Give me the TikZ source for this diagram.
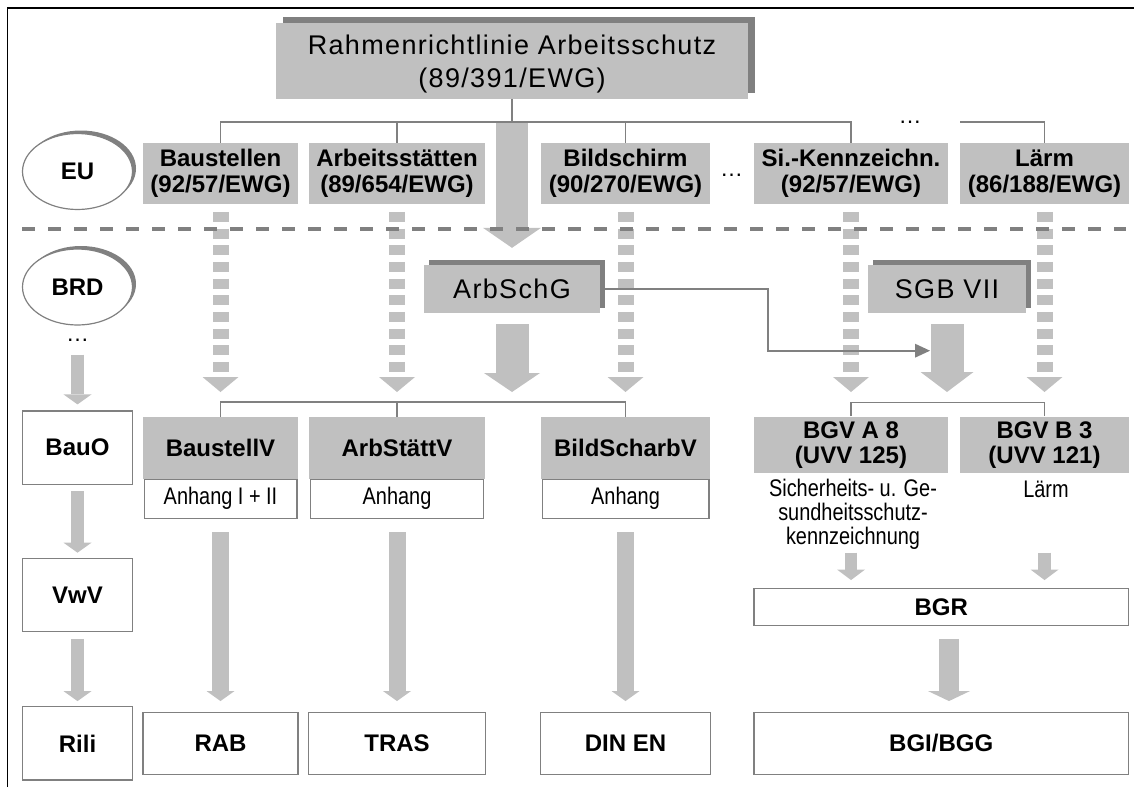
\documentclass[tikz,border=0pt]{standalone}
\usepackage{fontspec}
\setmainfont{Liberation Sans}
\newfontfamily\spacedfont[LetterSpace=5]{Liberation Sans}
\newfontfamily\narrowfont[FakeStretch=0.83]{Liberation Sans}
\usetikzlibrary{arrows.meta,shapes.geometric,shadows,calc}
\definecolor{boxgray}{HTML}{C0C0C0}
\definecolor{linegray}{HTML}{808080}
\newcommand\bfs{\fontsize{24}{26}\selectfont\bfseries}
\newcommand\bfsb{\fontsize{24}{25}\selectfont\bfseries}
\newcommand\spc{\spacedfont\fontsize{27}{33}\selectfont}
\newcommand\nar{\narrowfont\fontsize{24}{24}\selectfont}
\newcommand\reg{\fontsize{23}{26}\selectfont}
\tikzset{
  gbox/.style={fill=boxgray, draw=none, inner sep=0pt, align=center, font=\bfs},
  wbox/.style={fill=white, draw=linegray, line width=1.3pt, inner sep=0pt, align=center, font=\bfs},
  anhbox/.style={wbox, font=\nar},
  shbox/.style={fill=boxgray, inner sep=0pt, align=center, font=\spc},
  shadowed/.style 2 args={drop shadow={shadow xshift=#1, shadow yshift=#2, fill=linegray, opacity=1}},
  lvl/.style={ellipse, fill=white, draw=linegray, line width=1.2pt, minimum width=110pt, minimum height=76pt, inner sep=0pt, font=\bfs, shadowed={3.5pt}{3pt}},
  conn/.style={draw=linegray, line width=1.6pt},
  thinarrow/.style={conn, -{Triangle[width=14pt,length=15pt,line width=0pt]}},
  barrow/.style n args={3}{draw=boxgray, line width=#1, -{Triangle[width=#2,length=#3,line width=0pt]}},
  dasharrow/.style={draw=boxgray, line width=16pt, dash pattern=on 10pt off 6.67pt, -{Triangle[width=36pt,length=15pt,line width=0pt]}},
  sepline/.style={draw=linegray, line width=4pt, dash pattern=on 13.3pt off 12.7pt},
  dots/.style={font=\reg, anchor=base, inner sep=0pt}
}
\begin{document}
\begin{tikzpicture}[x=1pt,y=-1pt]
\useasboundingbox (0,0) rectangle (1134,787);
\draw[black, line width=1.1pt] (7.5,787) -- (7.5,8) -- (1134,8);

% ---- top framework directive
\node[shbox, shadowed={7pt}{6pt}, minimum width=472pt, minimum height=76pt] (rahmen) at (512,61) {};
\node[font=\spc, align=center, inner sep=0pt] (rahmentxt) at (512,64) {Rahmenrichtlinie Arbeitsschutz\\(89/391/EWG)};

% ---- EU directives
\node[gbox, minimum width=155pt, minimum height=61pt] (baust) at (220.5,173.5) {Baustellen\\(92/57/EWG)};
\node[gbox, minimum width=176pt, minimum height=61pt] (arbst) at (397,173.5) {Arbeitsstätten\\(89/654/EWG)};
\node[gbox, minimum width=169pt, minimum height=61pt] (bild) at (625.5,173.5) {Bildschirm\\(90/270/EWG)};
\node[gbox, minimum width=194pt, minimum height=61pt] (sikz) at (851,173.5) {Si.-Kennzeichn.\\(92/57/EWG)};
\node[gbox, minimum width=169pt, minimum height=61pt] (laerm) at (1044.5,173.5) {Lärm\\(86/188/EWG)};
\node[dots] (dotsA) at (910,123.2) {…};
\node[dots] (dotsB) at (731.5,176.2) {…};

% ---- level ellipses and left column
\node[lvl] (eu) at (77.5,171.5) {EU};
\node[lvl] (brd) at (77.5,287) {BRD};
\node[dots] (dotsC) at (77.5,341.2) {…};
\node[wbox, minimum width=110.6pt, minimum height=73.3pt] (bauo) at (77.5,447.7) {BauO};
\node[wbox, minimum width=110.6pt, minimum height=73.3pt] (vwv) at (77.5,595) {VwV};
\node[wbox, minimum width=110.6pt, minimum height=73.3pt] (rili) at (77.5,743.4) {Rili};

% ---- national laws
\node[shbox, shadowed={5pt}{5pt}, minimum width=176pt, minimum height=47.7pt] (arbschg) at (512,288.9) {ArbSchG};
\node[shbox, shadowed={5pt}{5pt}, minimum width=157.4pt, minimum height=47.7pt] (sgb) at (947,288.9) {SGB VII};

% ---- ordinances
\node[anhbox, minimum width=152.7pt, minimum height=39.3pt] (anh1) at (220.5,498.7) {Anhang I + II};
\node[anhbox, minimum width=172.7pt, minimum height=39.3pt] (anh2) at (397,498.7) {Anhang};
\node[anhbox, minimum width=166.7pt, minimum height=39.3pt] (anh3) at (625.5,498.7) {Anhang};
\node[gbox, minimum width=155pt, minimum height=62.3pt] (baustv) at (220.5,447.85) {BaustellV};
\node[gbox, minimum width=176pt, minimum height=62.3pt] (arbstv) at (397,447.85) {ArbStättV};
\node[gbox, minimum width=169pt, minimum height=62.3pt] (bildv) at (625.5,447.85) {BildScharbV};
\node[gbox, font=\bfsb, minimum width=194pt, minimum height=56.7pt] (bgva) at (851,445) {BGV A 8\\(UVV 125)};
\node[gbox, font=\bfsb, minimum width=169pt, minimum height=56.7pt] (bgvb) at (1044.5,445) {BGV B 3\\(UVV 121)};
\node[align=center, font=\nar, inner sep=0pt] (bgvatxt) at (853,514) {Sicherheits- u. Ge-\\sundheitsschutz-\\kennzeichnung};
\node[font=\nar, inner sep=0pt] (bgvbtxt) at (1046,489.3) {Lärm};

% ---- rules and guidelines
\node[wbox, minimum width=374.3pt, minimum height=37.4pt] (bgr) at (941.2,607) {BGR};
\node[wbox, minimum width=155pt, minimum height=61.6pt] (rab) at (220.5,743.5) {RAB};
\node[wbox, minimum width=177.4pt, minimum height=61.6pt] (tras) at (397,743.5) {TRAS};
\node[wbox, minimum width=170.3pt, minimum height=61.6pt] (din) at (625.5,743.5) {DIN EN};
\node[wbox, minimum width=374.3pt, minimum height=61.6pt] (bgi) at (941.2,743.5) {BGI/BGG};

% ---- tree connectors
\coordinate (t1) at (0,121.7);
\draw[conn] (baust.north) -- (baust.north |- t1) -- (sikz.north |- t1) -- (sikz.north);
\draw[conn] (arbst.north) -- (arbst.north |- t1);
\draw[conn] (bild.north) -- (bild.north |- t1);
\draw[conn] (rahmen.south) -- (rahmen.south |- t1);
\coordinate (t1r) at (960,121.7);
\draw[conn] (t1r) -| (laerm.north);

\coordinate (t3) at (0,401.7);
\draw[conn] (baustv.north) -- (baustv.north |- t3) -- (bildv.north |- t3) -- (bildv.north);
\draw[conn] (arbstv.north) -- (arbstv.north |- t3);
\coordinate (t4) at (0,402.3);
\draw[conn] (bgva.north) -- (bgva.north |- t4) -- (bgvb.north |- t4) -- (bgvb.north);

% ---- block arrows
\coordinate (t2) at (0,392);
\foreach \n in {baust,arbst,bild,sikz,laerm}
  \draw[dasharrow] ($(\n.south)+(0,7.7)$) -- (\n.south |- t2);
\draw[barrow={32pt}{58pt}{20pt}] ($(rahmen.south)+(0,24)$) -- ($(arbschg.north)+(0,-17)$);
\draw[barrow={33pt}{56pt}{19pt}] ($(arbschg.south)+(0,11.3)$) -- (arbschg.south |- t2);
\draw[barrow={33pt}{53pt}{20pt}] ($(sgb.south)+(0,11.3)$) -- (sgb.south |- t2);

\draw[barrow={13pt}{28pt}{10pt}] ($(brd.south)+(0,29)$) -- ($(bauo.north)+(0,-6)$);
\draw[barrow={13pt}{28pt}{10pt}] ($(bauo.south)+(0,6.4)$) -- ($(vwv.north)+(0,-5)$);
\draw[barrow={13pt}{28pt}{10pt}] ($(vwv.south)+(0,6.6)$) -- ($(rili.north)+(0,-5)$);

\foreach \a/\b in {anh1/rab,anh2/tras,anh3/din}
  \draw[barrow={17pt}{28pt}{10pt}] ($(\a.south)+(0,13.4)$) -- ($(\b.north -| \a.south)+(0,-11)$);

\coordinate (r1) at (0,552.7);
\draw[barrow={12.5pt}{28pt}{10.5pt}] (bgva.south |- r1) -- ($(bgr.north -| bgva.south)+(0,-7.6)$);
\draw[barrow={12.5pt}{28pt}{10.5pt}] (bgvb.south |- r1) -- ($(bgr.north -| bgvb.south)+(0,-7.6)$);
\coordinate (r2) at (949,0);
\draw[barrow={20pt}{42pt}{10pt}] ($(bgr.south -| r2)+(0,12.6)$) -- ($(bgi.north -| r2)+(0,-11)$);

% ---- EU / national separator
\coordinate (sepL) at (22,229);
\coordinate (sepR) at (1126,229);
\draw[sepline] (sepL) -- (sepR);

% ---- ArbSchG to accident insurance rules
\coordinate (bend) at (767.7,350.7);
\coordinate (sgbin) at (930,350.7);
\draw[thinarrow] ([xshift=5pt]arbschg.east) -| (bend) -- (sgbin);
\end{tikzpicture}
\end{document}
